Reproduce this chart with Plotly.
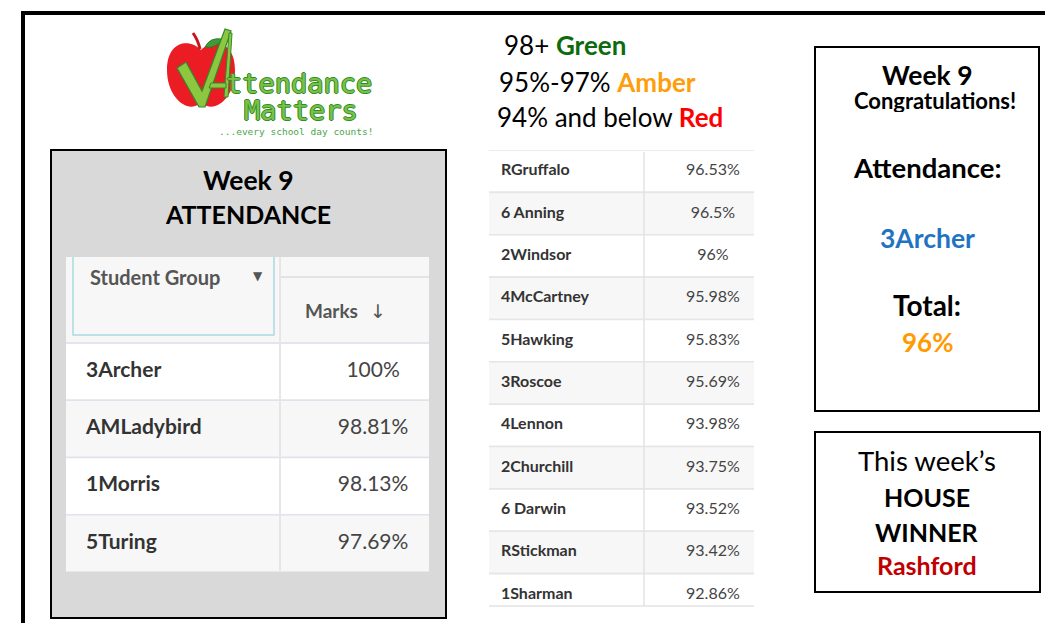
import plotly.graph_objects as go

W, H = 1045, 623

# ---------------- data ----------------
week = 9
top_groups = ["3Archer", "AMLadybird", "1Morris", "5Turing"]
top_marks = [100, 98.81, 98.13, 97.69]
other_groups = ["RGruffalo", "6 Anning", "2Windsor", "4McCartney", "5Hawking", "3Roscoe",
                "4Lennon", "2Churchill", "6 Darwin", "RStickman", "1Sharman"]
other_marks = [96.53, 96.5, 96, 95.98, 95.83, 95.69, 93.98, 93.75, 93.52, 93.42, 92.86]
band_ranges = ["98+", "95%-97%", "94% and below"]
band_names = ["Green", "Amber", "Red"]
band_colors = ["#0d6b0d", "#ff9d0a", "#ff0000"]
winner_class = "3Archer"
school_total = 96
house_winner = "Rashford"

FONT = "Lato"


def fmt(v):
    return f"{v:g}%"


fig = go.Figure()


def add_table(groups, marks, xa, ya, name_x, val_x, size, line_col):
    n = len(groups)
    fills = ["#ffffff" if i % 2 == 0 else "#f7f7f7" for i in range(n)]
    fig.add_trace(go.Bar(
        y=groups, x=[1.2] * n, base=-0.1, orientation="h", width=1,
        marker=dict(color=fills, line=dict(color=line_col, width=1.6)),
        xaxis=xa, yaxis=ya, hoverinfo="skip", showlegend=False))
    fig.add_trace(go.Scatter(
        y=groups, x=[name_x] * n, mode="text", text=groups,
        textposition="middle right",
        textfont=dict(family=FONT, size=size, color="#333333", weight="bold"),
        xaxis=xa, yaxis=ya, hoverinfo="skip", showlegend=False))
    fig.add_trace(go.Scatter(
        y=groups, x=[val_x] * n, mode="text", text=[fmt(v) for v in marks],
        textposition="middle center",
        textfont=dict(family=FONT, size=size, color="#444444"),
        xaxis=xa, yaxis=ya, hoverinfo="skip", showlegend=False))


add_table(top_groups, top_marks, "x2", "y2", 0.055, 0.846, 21, "#dfe4ec")
add_table(other_groups, other_marks, "x3", "y3", 0.045, 0.845, 16, "#e6e6e6")


def px(x):
    return x / W


def py(y):
    return 1 - y / H


hidden = dict(visible=False, fixedrange=True)
fig.update_layout(
    width=W, height=H, autosize=False,
    margin=dict(l=0, r=0, t=0, b=0),
    paper_bgcolor="white", plot_bgcolor="rgba(0,0,0,0)",
    template="none", showlegend=False,
    xaxis=dict(range=[0, W], domain=[0, 1], **hidden),
    yaxis=dict(range=[H, 0], domain=[0, 1], **hidden),
    xaxis2=dict(range=[0, 1], domain=[px(66), px(429)], anchor="y2", **hidden),
    yaxis2=dict(type="category", categoryorder="array", categoryarray=top_groups,
                range=[len(top_groups) - 0.5, -0.5], domain=[py(572), py(343)],
                anchor="x2", **hidden),
    xaxis3=dict(range=[0, 1], domain=[px(489), px(754)], anchor="y3", **hidden),
    yaxis3=dict(type="category", categoryorder="array", categoryarray=other_groups,
                range=[len(other_groups) - 0.5, -0.5], domain=[py(616), py(150)],
                anchor="x3", **hidden),
)

shapes = []


def rect(x0, y0, x1, y1, fill=None, line="black", lw=2, layer="below"):
    shapes.append(dict(type="rect", xref="x", yref="y", x0=x0, y0=y0, x1=x1, y1=y1,
                       fillcolor=fill if fill else "rgba(0,0,0,0)",
                       line=dict(color=line, width=lw), layer=layer))


def seg(x0, y0, x1, y1, color, lw, layer="above"):
    shapes.append(dict(type="line", xref="x", yref="y", x0=x0, y0=y0, x1=x1, y1=y1,
                       line=dict(color=color, width=lw), layer=layer))


def path(p, fill=None, line="rgba(0,0,0,0)", lw=0, layer="above"):
    shapes.append(dict(type="path", xref="x", yref="y", path=p,
                       fillcolor=fill if fill else "rgba(0,0,0,0)",
                       line=dict(color=line, width=lw), layer=layer))


# outer frame
seg(21, 13, 1045, 13, "black", 4, "below")
seg(23, 11, 23, 623, "black", 4, "below")

# left grey box
rect(51, 150, 446, 618, fill="#d9d9d9", line="black", lw=2)
# header background
rect(66, 257, 429, 343, fill="#f7f7f7", line="rgba(0,0,0,0)", lw=0)
# teal header cell outline
path("M 73 257 L 73 335 L 274 335 L 274 257", line="#a9dbe2", lw=1.5)
seg(280, 277, 429, 277, "#e3e3e3", 2)
seg(66, 343, 429, 343, "#e3e6ec", 2)
seg(280, 257, 280, 572, "#e6e6e6", 2)

# middle table: cropped at the bottom, column divider
rect(480, 607, 770, 623, fill="white", line="rgba(0,0,0,0)", lw=0, layer="above")
seg(489, 606, 754, 606, "#e3e3e3", 1.5)
seg(644, 152, 644, 606, "#e3e3e3", 1.5)

# right boxes
rect(815, 47, 1039, 411, line="black", lw=2)
rect(815, 432, 1040, 592, line="black", lw=2)

# ---- logo ----
path("M 201 50 C 190 38, 167 40, 167 70 C 167 95, 184 110, 195 106 "
     "C 199 104, 203 104, 207 106 C 219 110, 235 95, 235 70 C 235 40, 212 38, 201 50 Z",
     fill="#ec1c24")
path("M 200 49 Q 198 40 193 33", line="#c8161e", lw=3)
path("M 205 47 Q 210 37 222 39 Q 216 49 205 47 Z", fill="#3f9b35", line="#2d7a2a", lw=1)
# check / A
path("M 177 68 L 186 62 L 202 91 L 225 29 L 231 31 L 205 107 L 199 107 Z",
     fill="#8dc63f", line="#2e8b2e", lw=1.2)
path("M 229 33 L 232 33 L 228 97 L 224 97 Z", fill="#8dc63f", line="#2e8b2e", lw=1)
path("M 211 83 L 226 83 L 226 88 L 209 88 Z", fill="#8dc63f", line="#2e8b2e", lw=1)

fig.update_layout(shapes=shapes)


def txt(x, y, s, size, color="#000000", anchor="center", family=FONT, shadow=None, h=None):
    f = dict(family=family, size=size, color=color)
    if shadow:
        f["shadow"] = shadow
    kw = {}
    if h:
        kw["height"] = h
    fig.add_annotation(x=x, y=y, xref="x", yref="y", text=s, showarrow=False,
                       xanchor=anchor, yanchor="middle", font=f, **kw)


outline = "1px 0 0 #2e8b2e, -1px 0 0 #2e8b2e, 0 1px 0 #2e8b2e, 0 -1px 0 #2e8b2e"
txt(224, 83, "ttendance", 27, "#7cc242", "left", "DejaVu Sans Mono", outline, h=24)
txt(242, 110, "Matters", 27, "#7cc242", "left", "DejaVu Sans Mono", outline, h=24)
txt(217, 131, "...every school day counts!", 9.5, "#4aa54a", "left", "DejaVu Sans Mono")

# colour band key
key_x = [502, 497, 495]
key_y = [45, 82, 117]
for r, nm, c, kx, ky in zip(band_ranges, band_names, band_colors, key_x, key_y):
    txt(kx, ky, f"{r} <b><span style='color:{c}'>{nm}</span></b>", 26, "#000000", "left")

# left box titles
txt(248, 180, f"<b>Week {week}</b>", 26.5)
txt(248, 214, "<b>ATTENDANCE</b>", 25)

# header text
txt(88, 277, "<b>Student Group</b>", 20, "#555555", "left")
txt(258, 276, "▼", 12, "#555555", family="DejaVu Sans")
txt(303, 310, "<b>Marks</b>", 19, "#555555", "left")
txt(378, 311, "↓", 19, "#555555", family="DejaVu Sans")

# right box 1
cx = 927
txt(cx, 75, f"<b>Week {week}</b>", 26.5, h=24)
txt(935, 100, "<b>Congratulations!</b>", 22, h=24)
txt(cx, 167, "<b>Attendance:</b>", 27.5)
txt(cx, 238, f"<b>{winner_class}</b>", 26.5, "#1f73c2")
txt(cx, 305, "<b>Total:</b>", 28)
txt(cx, 342, f"<b>{school_total}%</b>", 26, "#ff9a00")

# right box 2
txt(cx, 460, "This week’s", 27.5)
txt(cx, 497, "<b>HOUSE</b>", 25)
txt(cx, 532, "<b>WINNER</b>", 25)
txt(cx, 565, f"<b>{house_winner}</b>", 25, "#c00000")

fig.write_html("out.html", include_plotlyjs=True, full_html=True,
               config={"displayModeBar": False, "staticPlot": True},
               post_script="document.body.style.margin='0';document.body.style.overflow='hidden';")
